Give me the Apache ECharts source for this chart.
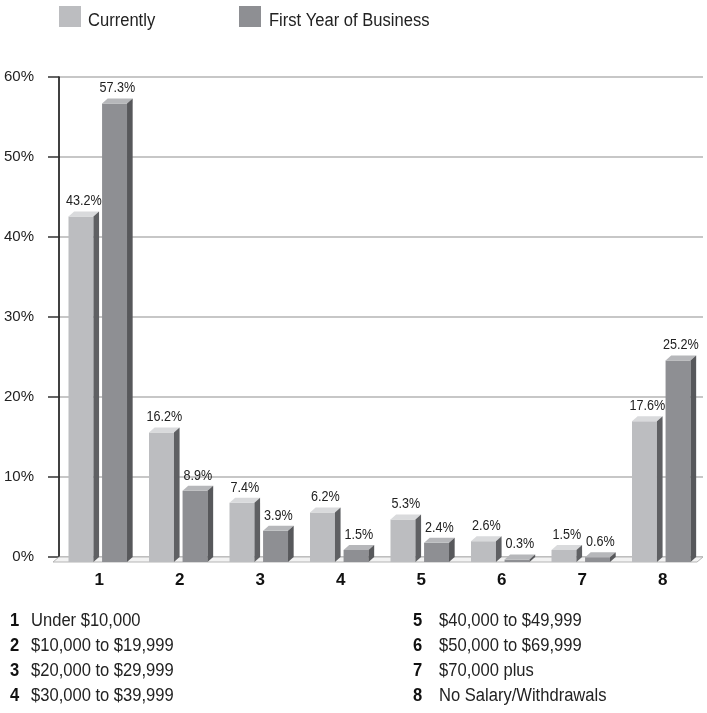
<!DOCTYPE html>
<html>
<head>
<meta charset="utf-8">
<script src="https://cdn.jsdelivr.net/npm/echarts@6/dist/echarts.min.js"></script>
<style>
html,body{margin:0;padding:0;background:#fff;}
#chart{width:707px;height:713px;}
</style>
</head>
<body>
<div id="chart"></div>
<script>
const categories = ['1','2','3','4','5','6','7','8'];
const seriesNames = ['Currently', 'First Year of Business'];
const currently = [43.2, 16.2, 7.4, 6.2, 5.3, 2.6, 1.5, 17.6];
const firstYear = [57.3, 8.9, 3.9, 1.5, 2.4, 0.3, 0.6, 25.2];
const yTicks = [0, 10, 20, 30, 40, 50, 60];
const keyLabels = ['Under $10,000', '$10,000 to $19,999', '$20,000 to $29,999', '$30,000 to $39,999',
                   '$40,000 to $49,999', '$50,000 to $69,999', '$70,000 plus', 'No Salary/Withdrawals'];

const FONT = '"Liberation Sans", Arial, sans-serif';
const palettes = [
  {front: '#bcbdc0', top: '#d9dadc', side: '#5f6063'},
  {front: '#8e8f93', top: '#b6b7ba', side: '#57585b'}
];

function makeRender(sIdx) {
  return function (params, api) {
    const i = api.value(0), v = api.value(1);
    const p0 = api.coord([i, 0]);
    const p1 = api.coord([i, v]);
    const bw = api.size([1, 0])[0];
    const w = bw * 0.31, dx = bw * 0.07, dy = 5, gap = bw * 0.037;
    const x0 = p0[0] - bw / 2 + bw * 0.118 + sIdx * (w + dx + gap);
    const yb = p0[1], yt = p1[1];
    const c = palettes[sIdx];
    return {
      type: 'group',
      children: [
        {type: 'rect', shape: {x: x0, y: yt + dy, width: w, height: yb - yt}, style: {fill: c.front}},
        {type: 'polygon', shape: {points: [[x0, yt + dy], [x0 + w, yt + dy], [x0 + w + dx, yt], [x0 + dx, yt]]}, style: {fill: c.top}},
        {type: 'polygon', shape: {points: [[x0 + w, yt + dy], [x0 + w + dx, yt], [x0 + w + dx, yb], [x0 + w, yb + dy]]}, style: {fill: c.side}},
        {type: 'text', x: x0 + (w + dx) / 2, y: yt - 3, scaleX: 0.9,
          style: {x: 0, y: 0, text: v.toFixed(1) + '%', align: 'center', verticalAlign: 'bottom',
          font: '14px ' + FONT, fill: '#222'}}
      ]
    };
  };
}

function floorRender(params, api) {
  const cs = params.coordSys;
  const y0 = api.coord([0, 0])[1];
  const dx = 6, dy = 5;
  return {
    type: 'polygon',
    shape: {points: [[cs.x, y0], [cs.x + cs.width, y0], [cs.x + cs.width - dx, y0 + dy], [cs.x - dx, y0 + dy]]},
    style: {fill: '#f2f2f2', stroke: '#b5b5b5', lineWidth: 1}
  };
}

function txt(x, y, text, font, fill) {
  return {type: 'text', x: x, y: y, scaleX: 0.92,
    style: {x: 0, y: 0, text: text, font: font, fill: fill, align: 'left', verticalAlign: 'middle'}};
}

const graphics = [];
graphics.push({type: 'rect', shape: {x: 59, y: 6, width: 22, height: 21}, style: {fill: palettes[0].front}});
graphics.push(txt(88, 21, seriesNames[0], '18px ' + FONT, '#222'));
graphics.push({type: 'rect', shape: {x: 239, y: 6, width: 22, height: 21}, style: {fill: palettes[1].front}});
graphics.push(txt(269, 21, seriesNames[1], '18px ' + FONT, '#222'));
keyLabels.forEach((t, k) => {
  const col = Math.floor(k / 4), row = k % 4;
  const xn = col === 0 ? 10 : 413;
  const xt = col === 0 ? 31 : 439;
  const yc = 621 + row * 25;
  graphics.push(txt(xn, yc, categories[k], 'bold 18px ' + FONT, '#111'));
  graphics.push(txt(xt, yc, t, '18px ' + FONT, '#222'));
});

const chart = echarts.init(document.getElementById('chart'), null, {renderer: 'canvas'});
chart.setOption({
  animation: false,
  backgroundColor: '#fff',
  grid: {left: 59, right: 4, top: 77, bottom: 156},
  xAxis: {
    type: 'category',
    data: categories,
    axisLine: {show: false},
    axisTick: {show: false},
    axisLabel: {margin: 15, fontFamily: FONT, fontSize: 17, fontWeight: 'bold', color: '#111'}
  },
  yAxis: {
    type: 'value',
    min: yTicks[0], max: yTicks[yTicks.length - 1], interval: 10,
    axisLine: {show: true, lineStyle: {color: '#000', width: 1.5}},
    axisTick: {show: true, length: 11, lineStyle: {color: '#333', width: 1.5}},
    axisLabel: {margin: 25, fontFamily: FONT, fontSize: 15, color: '#222', formatter: v => v + '%'},
    splitLine: {show: true, lineStyle: {color: '#b5b5b5', width: 1.5}}
  },
  series: [
    {type: 'custom', name: 'floor', renderItem: floorRender, data: [[0, 0]], z: 1, silent: true},
    {type: 'custom', name: seriesNames[0], renderItem: makeRender(0), data: currently.map((v, i) => [i, v]), encode: {x: 0, y: 1}, z: 3},
    {type: 'custom', name: seriesNames[1], renderItem: makeRender(1), data: firstYear.map((v, i) => [i, v]), encode: {x: 0, y: 1}, z: 3}
  ],
  graphic: graphics
});
</script>
</body>
</html>
